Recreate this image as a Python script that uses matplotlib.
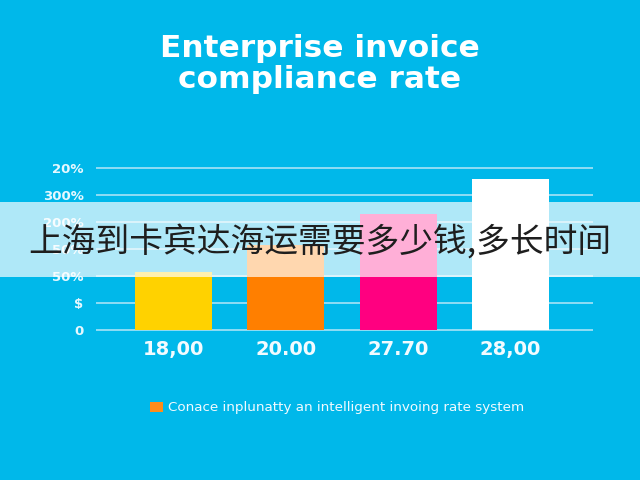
import matplotlib
matplotlib.use("Agg")
import matplotlib.pyplot as plt
from matplotlib.patches import Rectangle, Patch

categories = ["18,00", "20.00", "27.70", "28,00"]
values = [2.15, 3.15, 4.3, 5.59]
bar_colors = ["#FFD200", "#FF7F00", "#FF0080", "#FFFFFF"]
ytick_pos = [0, 1, 2, 3, 4, 5, 6]
ytick_labels = ["0", "$", "50%", "50%", "200%", "300%", "20%"]
title = "Enterprise invoice\ncompliance rate"
legend_label = "Conace inplunatty an intelligent invoing rate system"
legend_color = "#FF8C1A"
banner_text = "上海到卡宾达海运需要多少钱,多长时间"

BG = "#00B8EA"
W, H = 640, 480
fig = plt.figure(figsize=(6.4, 4.8), dpi=100, facecolor=BG)

y0_px, y6_px = 330, 168
unit = (y0_px - y6_px) / 6
ylo, yhi = -0.1, 6.1
bottom_px = y0_px + (0 - ylo) * unit
height_px = (yhi - ylo) * unit
left_px, right_px = 96, 593
ax = fig.add_axes([left_px / W, 1 - bottom_px / H, (right_px - left_px) / W, height_px / H])
ax.set_facecolor(BG)

x = list(range(len(categories)))
ax.bar(x, values, width=0.686, color=bar_colors, zorder=3)
ax.set_xlim(-0.69, 3.735)
ax.set_ylim(ylo, yhi)
ax.set_yticks(ytick_pos)
ax.set_yticklabels(ytick_labels)
ax.set_xticks(x)
ax.set_xticklabels(categories)
ax.set_axisbelow(True)
ax.yaxis.grid(True, color="#8FDDF5", linewidth=1.4)
for s in ax.spines.values():
    s.set_visible(False)
ax.tick_params(axis="y", length=0, pad=9, labelsize=9.5, labelcolor="#E6F8FF")
ax.tick_params(axis="x", length=0, pad=5, labelsize=14, labelcolor="#F2FBFF")
for lab in ax.get_yticklabels() + ax.get_xticklabels():
    lab.set_fontweight("bold")

fig.text(0.5, 1 - 64 / H, title, ha="center", va="center", fontsize=22.5,
         fontweight="bold", color="white", linespacing=1.1)

leg = ax.legend(handles=[Patch(facecolor=legend_color, label=legend_label)],
                loc="center", bbox_to_anchor=(337 / W, 1 - 408 / H),
                bbox_transform=fig.transFigure, frameon=False, fontsize=9.7,
                handlelength=0.95, handleheight=0.8, handletextpad=0.4)
for t in leg.get_texts():
    t.set_color("#F0FAFF")

banner = Rectangle((0, 1 - 277 / H), 1, 75 / H, transform=fig.transFigure,
                   facecolor="white", alpha=0.69, edgecolor="none", zorder=10)
fig.add_artist(banner)
fig.text(0.5, 1 - 242 / H, banner_text, ha="center", va="center", fontsize=24.3,
         color="#1E1E1E", family=["Noto Sans CJK SC", "DejaVu Sans"], zorder=11)

fig.savefig("out.png", dpi=100, facecolor=BG)
